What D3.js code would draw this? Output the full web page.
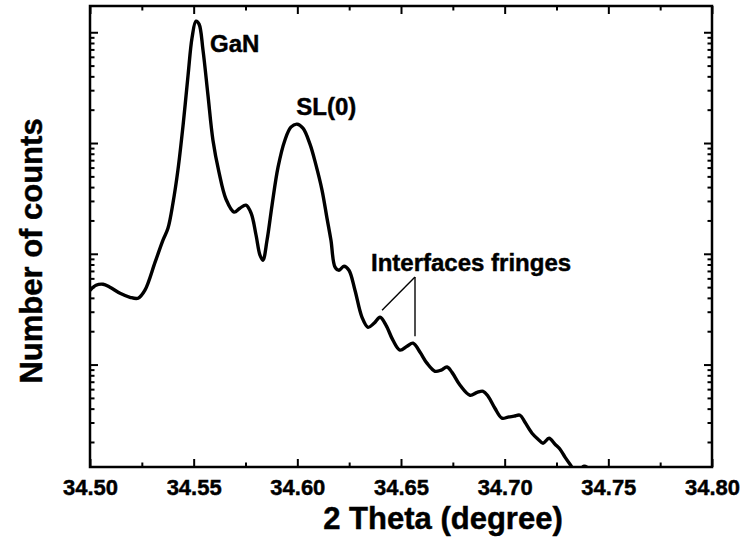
<!DOCTYPE html>
<html>
<head>
<meta charset="utf-8">
<script src="https://cdn.jsdelivr.net/npm/d3@7"></script>
<style>
  html, body { margin: 0; padding: 0; background: #fff; }
  svg { display: block; font-family: "Liberation Sans", Arial, sans-serif; font-weight: bold; }
  .heavy { stroke: #000; stroke-width: 0.45px; paint-order: stroke; }
</style>
</head>
<body>
<svg id="chart" width="742" height="544"></svg>
<script>
// XRD scan: 2-theta angle (degree) and measured counts
const twoTheta = [
  34.5000, 34.5029, 34.5063, 34.5096, 34.5145, 34.5193, 34.5232, 34.5265, 34.5314, 34.5352,
  34.5376, 34.5400, 34.5424, 34.5449, 34.5473, 34.5492, 34.5511, 34.5526, 34.5545, 34.5569,
  34.5593, 34.5622, 34.5656, 34.5695, 34.5723, 34.5752, 34.5777, 34.5801, 34.5820, 34.5834,
  34.5854, 34.5878, 34.5907, 34.5940, 34.5969, 34.5998, 34.6027, 34.6061, 34.6090, 34.6119,
  34.6143, 34.6162, 34.6182, 34.6201, 34.6225, 34.6249, 34.6278, 34.6312, 34.6341, 34.6370,
  34.6399, 34.6428, 34.6461, 34.6495, 34.6529, 34.6558, 34.6592, 34.6625, 34.6664, 34.6693,
  34.6722, 34.6746, 34.6785, 34.6833, 34.6867, 34.6896, 34.6920, 34.6953, 34.6987, 34.7016,
  34.7045, 34.7074, 34.7098, 34.7132, 34.7161, 34.7185, 34.7214, 34.7243, 34.7267, 34.7291,
  34.7315, 34.7334, 34.7363, 34.7383, 34.7402, 34.7421
];
const counts = [
  46.9, 52.0, 53.1, 49.9, 44.0, 40.5, 39.7, 46.9, 84, 133,
  170, 286, 569, 1452, 4100, 8870, 12600, 11850, 6900, 2700,
  1060, 546, 311, 238, 258, 275, 233, 147, 97, 87.5,
  133, 275, 605, 1060, 1390, 1480, 1362, 977, 631, 376,
  210, 133, 75.7, 71.1, 77.3, 71.1, 46.9, 26.7, 21.7, 23.6,
  26.7, 22.6, 16.6, 13.5, 14.6, 15.6, 12.9, 10.3, 8.7, 8.9,
  9.5, 8.5, 6.5, 5.28, 5.6, 5.74, 5.17, 4.03, 3.28, 3.35,
  3.42, 3.49, 3.01, 2.40, 2.12, 1.95, 2.16, 1.91, 1.72, 1.46,
  1.26, 1.13, 1.13, 1.21, 1.17, 1.10
];
const xTicks = [34.50, 34.55, 34.60, 34.65, 34.70, 34.75, 34.80];
const xMinorTicks = [34.525, 34.575, 34.625, 34.675, 34.725, 34.775];
const yMajorTicks = [10, 100, 1000, 10000];
const yMinorTicks = [];
for (let k = 0; k <= 3; k++) for (let m = 2; m <= 9; m++) yMinorTicks.push(m * Math.pow(10, k));
const yDomain = [1.189, 17260];

const svg = d3.select("#chart");
const margin = { left: 90, right: 30, top: 6, bottom: 77 };
const W = 742, H = 544;
const x = d3.scaleLinear().domain([34.50, 34.80]).range([margin.left, W - margin.right]);
const y = d3.scaleLog().domain(yDomain).range([H - margin.bottom, margin.top]);

// clip region for the trace
svg.append("defs").append("clipPath").attr("id", "plotClip")
  .append("rect")
  .attr("x", x.range()[0]).attr("y", y.range()[1])
  .attr("width", x.range()[1] - x.range()[0])
  .attr("height", y.range()[0] - y.range()[1]);

const MAJ = 8, MIN = 4.5;
function styleAxis(g) {
  g.select(".domain").remove();
  g.selectAll(".tick line").attr("stroke", "#000").attr("stroke-width", 2);
}

// bottom axis with labels
const gBottom = svg.append("g").attr("transform", `translate(0,${y.range()[0]})`)
  .call(d3.axisBottom(x).tickValues(xTicks).tickSize(-MAJ).tickPadding(12).tickFormat(d3.format(".2f")));
styleAxis(gBottom);
gBottom.selectAll("text").attr("fill", "#000").attr("font-size", 22).attr("font-weight", "bold")
  .attr("font-family", "'Liberation Sans', Arial, sans-serif").attr("class", "heavy");
svg.append("g").attr("transform", `translate(0,${y.range()[0]})`)
  .call(d3.axisBottom(x).tickValues(xMinorTicks).tickSize(-MIN).tickFormat("")).call(styleAxis);

// top axis (ticks only)
svg.append("g").attr("transform", `translate(0,${y.range()[1]})`)
  .call(d3.axisTop(x).tickValues(xTicks).tickSize(-MAJ).tickFormat("")).call(styleAxis);
svg.append("g").attr("transform", `translate(0,${y.range()[1]})`)
  .call(d3.axisTop(x).tickValues(xMinorTicks).tickSize(-MIN).tickFormat("")).call(styleAxis);

// left and right axes (ticks only, log scale)
svg.append("g").attr("transform", `translate(${x.range()[0]},0)`)
  .call(d3.axisLeft(y).tickValues(yMajorTicks).tickSize(-MAJ).tickFormat("")).call(styleAxis);
svg.append("g").attr("transform", `translate(${x.range()[0]},0)`)
  .call(d3.axisLeft(y).tickValues(yMinorTicks).tickSize(-MIN).tickFormat("")).call(styleAxis);
svg.append("g").attr("transform", `translate(${x.range()[1]},0)`)
  .call(d3.axisRight(y).tickValues(yMajorTicks).tickSize(-MAJ).tickFormat("")).call(styleAxis);
svg.append("g").attr("transform", `translate(${x.range()[1]},0)`)
  .call(d3.axisRight(y).tickValues(yMinorTicks).tickSize(-MIN).tickFormat("")).call(styleAxis);

// frame
svg.append("rect")
  .attr("x", x.range()[0]).attr("y", y.range()[1])
  .attr("width", x.range()[1] - x.range()[0])
  .attr("height", y.range()[0] - y.range()[1])
  .attr("fill", "none").attr("stroke", "#000").attr("stroke-width", 2.5);

// trace
const pts = twoTheta.map((t, i) => [t, counts[i]]);
const line = d3.line().x(d => x(d[0])).y(d => y(d[1])).curve(d3.curveCatmullRom.alpha(0.5));
svg.append("path").datum(pts)
  .attr("clip-path", "url(#plotClip)")
  .attr("d", line)
  .attr("fill", "none").attr("stroke", "#000").attr("stroke-width", 3.4)
  .attr("stroke-linejoin", "round").attr("stroke-linecap", "round");

// peak annotations
svg.append("text").attr("class", "heavy").attr("x", 210).attr("y", 52)
  .attr("font-size", 24).text("GaN");
svg.append("text").attr("class", "heavy").attr("x", x(34.5995)).attr("y", y(counts[35]) - 9)
  .attr("font-size", 24).text("SL(0)");
svg.append("text").attr("class", "heavy").attr("x", 371).attr("y", 271)
  .attr("font-size", 24).text("Interfaces fringes");

// leader lines to two fringe maxima
const apex = [415, 277];
[[34.6399, 26.7], [34.6558, 15.6]].forEach(p => {
  svg.append("line")
    .attr("x1", apex[0]).attr("y1", apex[1])
    .attr("x2", x(p[0]) + 2).attr("y2", y(p[1]) - 7)
    .attr("stroke", "#000").attr("stroke-width", 1.4);
});

// axis titles
svg.append("text").attr("class", "heavy").attr("x", 443).attr("y", 529).attr("text-anchor", "middle")
  .attr("font-size", 31).text("2 Theta (degree)");
svg.append("text").attr("class", "heavy").attr("transform", "translate(42,251) rotate(-90)").attr("text-anchor", "middle")
  .attr("font-size", 31).text("Number of counts");
</script>
</body>
</html>
